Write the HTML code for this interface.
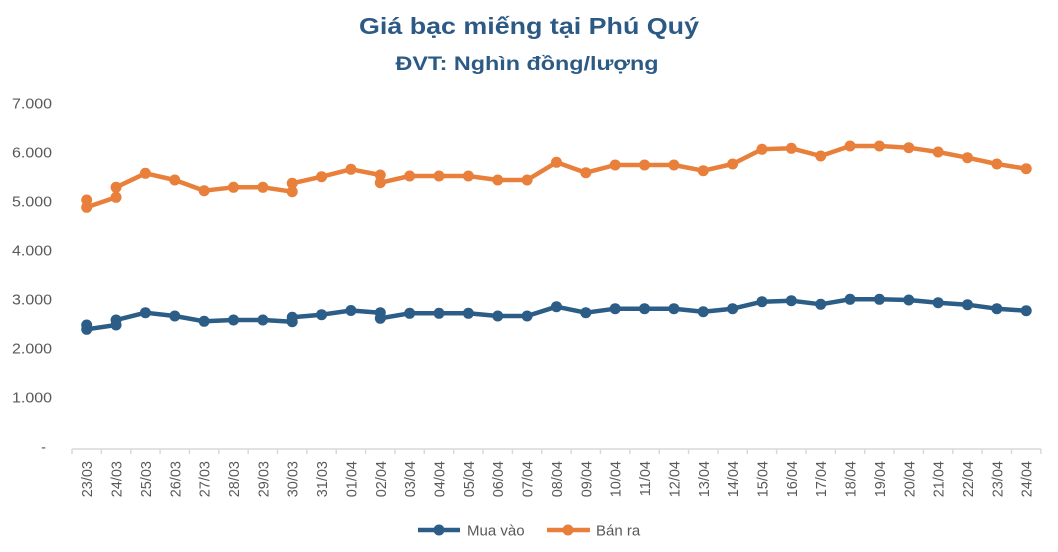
<!DOCTYPE html>
<html>
<head>
<meta charset="utf-8">
<style>
html,body{margin:0;padding:0;background:#fff;}
svg{display:block;}
text{font-family:"Liberation Sans",sans-serif;}
</style>
</head>
<body>
<svg width="1058" height="552" viewBox="0 0 1058 552" xmlns="http://www.w3.org/2000/svg">
<rect width="1058" height="552" fill="#fff"/>
<text x="529" y="34" text-anchor="middle" font-size="23" font-weight="bold" fill="#2c5a85" textLength="340" lengthAdjust="spacingAndGlyphs">Giá bạc miếng tại Phú Quý</text>
<text x="527" y="70" text-anchor="middle" font-size="19.5" font-weight="bold" fill="#2c5a85" textLength="263" lengthAdjust="spacingAndGlyphs">ĐVT: Nghìn đồng/lượng</text>

<g font-size="14.5" fill="#595959" text-anchor="end">
<text x="52" y="108.5" textLength="40" lengthAdjust="spacingAndGlyphs">7.000</text>
<text x="52" y="157.5" textLength="40" lengthAdjust="spacingAndGlyphs">6.000</text>
<text x="52" y="206.5" textLength="40" lengthAdjust="spacingAndGlyphs">5.000</text>
<text x="52" y="255.5" textLength="40" lengthAdjust="spacingAndGlyphs">4.000</text>
<text x="52" y="304.5" textLength="40" lengthAdjust="spacingAndGlyphs">3.000</text>
<text x="52" y="353.5" textLength="40" lengthAdjust="spacingAndGlyphs">2.000</text>
<text x="52" y="402.5" textLength="40" lengthAdjust="spacingAndGlyphs">1.000</text>
<text x="46" y="452">-</text>
</g>

<g stroke="#d9d9d9" stroke-width="1.5" fill="none">
<line x1="72" y1="449" x2="1041" y2="449"/>
<path d="M72 449v5M101.36 449v5M130.72 449v5M160.08 449v5M189.44 449v5M218.8 449v5M248.16 449v5M277.52 449v5M306.88 449v5M336.24 449v5M365.6 449v5M394.96 449v5M424.32 449v5M453.68 449v5M483.04 449v5M512.4 449v5M541.76 449v5M571.12 449v5M600.48 449v5M629.84 449v5M659.2 449v5M688.56 449v5M717.92 449v5M747.28 449v5M776.64 449v5M806 449v5M835.36 449v5M864.72 449v5M894.08 449v5M923.44 449v5M952.8 449v5M982.16 449v5M1011.52 449v5M1040.88 449v5"/>
</g>

<g font-size="14.5" fill="#595959" text-anchor="end">
<text transform="translate(92.2,461) rotate(-90)">23/03</text>
<text transform="translate(121.56,461) rotate(-90)">24/03</text>
<text transform="translate(150.92,461) rotate(-90)">25/03</text>
<text transform="translate(180.28,461) rotate(-90)">26/03</text>
<text transform="translate(209.64,461) rotate(-90)">27/03</text>
<text transform="translate(239,461) rotate(-90)">28/03</text>
<text transform="translate(268.36,461) rotate(-90)">29/03</text>
<text transform="translate(297.72,461) rotate(-90)">30/03</text>
<text transform="translate(327.08,461) rotate(-90)">31/03</text>
<text transform="translate(356.44,461) rotate(-90)">01/04</text>
<text transform="translate(385.8,461) rotate(-90)">02/04</text>
<text transform="translate(415.16,461) rotate(-90)">03/04</text>
<text transform="translate(444.52,461) rotate(-90)">04/04</text>
<text transform="translate(473.88,461) rotate(-90)">05/04</text>
<text transform="translate(503.24,461) rotate(-90)">06/04</text>
<text transform="translate(532.6,461) rotate(-90)">07/04</text>
<text transform="translate(561.96,461) rotate(-90)">08/04</text>
<text transform="translate(591.32,461) rotate(-90)">09/04</text>
<text transform="translate(620.68,461) rotate(-90)">10/04</text>
<text transform="translate(650.04,461) rotate(-90)">11/04</text>
<text transform="translate(679.4,461) rotate(-90)">12/04</text>
<text transform="translate(708.76,461) rotate(-90)">13/04</text>
<text transform="translate(738.12,461) rotate(-90)">14/04</text>
<text transform="translate(767.48,461) rotate(-90)">15/04</text>
<text transform="translate(796.84,461) rotate(-90)">16/04</text>
<text transform="translate(826.2,461) rotate(-90)">17/04</text>
<text transform="translate(855.56,461) rotate(-90)">18/04</text>
<text transform="translate(884.92,461) rotate(-90)">19/04</text>
<text transform="translate(914.28,461) rotate(-90)">20/04</text>
<text transform="translate(943.64,461) rotate(-90)">21/04</text>
<text transform="translate(973,461) rotate(-90)">22/04</text>
<text transform="translate(1002.36,461) rotate(-90)">23/04</text>
<text transform="translate(1031.72,461) rotate(-90)">24/04</text>
</g>

<!-- Orange series (Bán ra) -->
<g>
<polyline fill="none" stroke="#e8803c" stroke-width="4.5" stroke-linejoin="round" points="86.7,200 86.7,207.3 116.06,197.3 116.06,187.3 145.42,173.3 174.78,180 204.14,190.7 233.5,187.3 262.86,187.3 292.22,191.7 292.22,183.3 321.58,176.7 350.94,169.3 380.3,175 380.3,182.7 409.66,176 439.02,176 468.38,176 497.74,180 527.1,180 556.46,162.3 585.82,172.7 615.18,165 644.54,165 673.9,165 703.26,170.7 732.62,164 761.98,149.3 791.34,148.3 820.7,156 850.06,146 879.42,146 908.78,147.7 938.14,152 967.5,157.7 996.86,164 1026.22,168.7"/>
<g fill="#e8803c">
<circle cx="86.7" cy="200" r="5.5"/><circle cx="86.7" cy="207.3" r="5.5"/>
<circle cx="116.06" cy="197.3" r="5.5"/><circle cx="116.06" cy="187.3" r="5.5"/>
<circle cx="145.42" cy="173.3" r="5.5"/><circle cx="174.78" cy="180" r="5.5"/>
<circle cx="204.14" cy="190.7" r="5.5"/><circle cx="233.5" cy="187.3" r="5.5"/>
<circle cx="262.86" cy="187.3" r="5.5"/><circle cx="292.22" cy="191.7" r="5.5"/>
<circle cx="292.22" cy="183.3" r="5.5"/><circle cx="321.58" cy="176.7" r="5.5"/>
<circle cx="350.94" cy="169.3" r="5.5"/><circle cx="380.3" cy="175" r="5.5"/>
<circle cx="380.3" cy="182.7" r="5.5"/><circle cx="409.66" cy="176" r="5.5"/>
<circle cx="439.02" cy="176" r="5.5"/><circle cx="468.38" cy="176" r="5.5"/>
<circle cx="497.74" cy="180" r="5.5"/><circle cx="527.1" cy="180" r="5.5"/>
<circle cx="556.46" cy="162.3" r="5.5"/><circle cx="585.82" cy="172.7" r="5.5"/>
<circle cx="615.18" cy="165" r="5.5"/><circle cx="644.54" cy="165" r="5.5"/>
<circle cx="673.9" cy="165" r="5.5"/><circle cx="703.26" cy="170.7" r="5.5"/>
<circle cx="732.62" cy="164" r="5.5"/><circle cx="761.98" cy="149.3" r="5.5"/>
<circle cx="791.34" cy="148.3" r="5.5"/><circle cx="820.7" cy="156" r="5.5"/>
<circle cx="850.06" cy="146" r="5.5"/><circle cx="879.42" cy="146" r="5.5"/>
<circle cx="908.78" cy="147.7" r="5.5"/><circle cx="938.14" cy="152" r="5.5"/>
<circle cx="967.5" cy="157.7" r="5.5"/><circle cx="996.86" cy="164" r="5.5"/>
<circle cx="1026.22" cy="168.7" r="5.5"/>
</g>
</g>

<!-- Blue series (Mua vào) -->
<g>
<polyline fill="none" stroke="#2c5d87" stroke-width="4.5" stroke-linejoin="round" points="86.7,325 86.7,329.3 116.06,325 116.06,320 145.42,312.7 174.78,316 204.14,321.3 233.5,320 262.86,320 292.22,321.7 292.22,317.3 321.58,314.7 350.94,310.5 380.3,312.7 380.3,318.3 409.66,313.3 439.02,313.3 468.38,313.3 497.74,316 527.1,316 556.46,306.7 585.82,312.7 615.18,308.7 644.54,308.7 673.9,308.7 703.26,311.7 732.62,308.7 761.98,301.7 791.34,300.7 820.7,304.3 850.06,299.3 879.42,299.3 908.78,300 938.14,302.7 967.5,304.7 996.86,308.7 1026.22,310.7"/>
<g fill="#2c5d87">
<circle cx="86.7" cy="325" r="5.5"/><circle cx="86.7" cy="329.3" r="5.5"/>
<circle cx="116.06" cy="325" r="5.5"/><circle cx="116.06" cy="320" r="5.5"/>
<circle cx="145.42" cy="312.7" r="5.5"/><circle cx="174.78" cy="316" r="5.5"/>
<circle cx="204.14" cy="321.3" r="5.5"/><circle cx="233.5" cy="320" r="5.5"/>
<circle cx="262.86" cy="320" r="5.5"/><circle cx="292.22" cy="321.7" r="5.5"/>
<circle cx="292.22" cy="317.3" r="5.5"/><circle cx="321.58" cy="314.7" r="5.5"/>
<circle cx="350.94" cy="310.5" r="5.5"/><circle cx="380.3" cy="312.7" r="5.5"/>
<circle cx="380.3" cy="318.3" r="5.5"/><circle cx="409.66" cy="313.3" r="5.5"/>
<circle cx="439.02" cy="313.3" r="5.5"/><circle cx="468.38" cy="313.3" r="5.5"/>
<circle cx="497.74" cy="316" r="5.5"/><circle cx="527.1" cy="316" r="5.5"/>
<circle cx="556.46" cy="306.7" r="5.5"/><circle cx="585.82" cy="312.7" r="5.5"/>
<circle cx="615.18" cy="308.7" r="5.5"/><circle cx="644.54" cy="308.7" r="5.5"/>
<circle cx="673.9" cy="308.7" r="5.5"/><circle cx="703.26" cy="311.7" r="5.5"/>
<circle cx="732.62" cy="308.7" r="5.5"/><circle cx="761.98" cy="301.7" r="5.5"/>
<circle cx="791.34" cy="300.7" r="5.5"/><circle cx="820.7" cy="304.3" r="5.5"/>
<circle cx="850.06" cy="299.3" r="5.5"/><circle cx="879.42" cy="299.3" r="5.5"/>
<circle cx="908.78" cy="300" r="5.5"/><circle cx="938.14" cy="302.7" r="5.5"/>
<circle cx="967.5" cy="304.7" r="5.5"/><circle cx="996.86" cy="308.7" r="5.5"/>
<circle cx="1026.22" cy="310.7" r="5.5"/>
</g>
</g>

<!-- Legend -->
<line x1="418" y1="530" x2="460" y2="530" stroke="#2c5d87" stroke-width="4.5"/>
<circle cx="439" cy="530" r="5.5" fill="#2c5d87"/>
<text x="467" y="535.5" font-size="15" fill="#595959">Mua vào</text>
<line x1="547" y1="530" x2="590" y2="530" stroke="#e8803c" stroke-width="4.5"/>
<circle cx="568" cy="530" r="5.5" fill="#e8803c"/>
<text x="596" y="535.5" font-size="15" fill="#595959">Bán ra</text>
</svg>
</body>
</html>
